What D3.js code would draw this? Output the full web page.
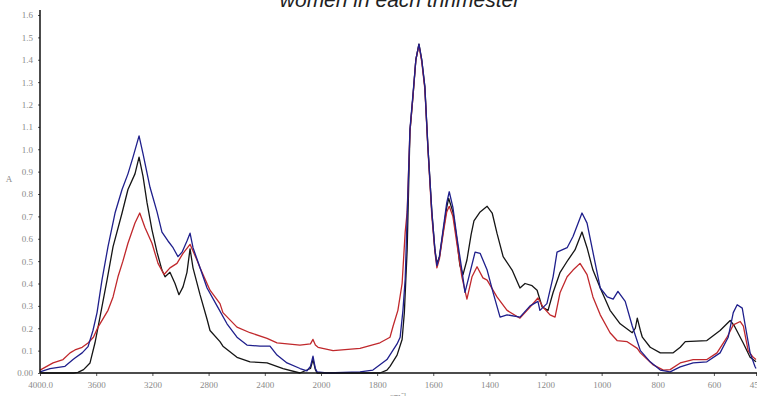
<!DOCTYPE html>
<html>
<head>
<meta charset="utf-8">
<script src="https://cdn.jsdelivr.net/npm/d3@7"></script>
<style>
  body { margin: 0; background: #fff; }
  svg { display: block; }
</style>
</head>
<body>
<div id="chart"></div>
<script>
// spectra: [wavenumber cm-1, absorbance]
const trimester1 = [ // blue
  [4000,0.005],[3929,0.02],[3822,0.03],[3765,0.06],[3751,0.067],[3700,0.09],[3658,0.118],[3623,0.19],
  [3594,0.27],[3559,0.415],[3516,0.565],[3466,0.715],[3416,0.82],[3374,0.89],[3338,0.965],[3295,1.06],
  [3267,0.98],[3217,0.83],
  [3167,0.72],[3132,0.63],[3089,0.59],[3053,0.56],[3018,0.52],[2989,0.54],[2954,0.59],[2932,0.625],
  [2911,0.56],[2861,0.47],[2811,0.38],[2740,0.30],[2669,0.22],[2598,0.16],[2527,0.125],[2434,0.12],
  [2363,0.12],[2313,0.08],[2242,0.045],[2149,0.02],[2100,0.01],[2075,0.03],[2057,0.075],[2040,0.02],
  [2028,0.005],[1979,0.0],[1861,0.005],[1815,0.013],[1765,0.06],[1729,0.13],[1718,0.16],[1708,0.28],
  [1700,0.42],[1693,0.70],[1683,1.09],[1672,1.25],[1662,1.40],[1651,1.47],[1641,1.40],[1630,1.28],
  [1619,1.01],[1605,0.72],[1594,0.55],[1587,0.48],[1578,0.52],[1565,0.64],[1552,0.76],[1543,0.81],
  [1530,0.74],[1516,0.61],[1498,0.46],[1487,0.36],[1469,0.45],[1451,0.54],[1433,0.535],[1408,0.46],
  [1387,0.36],[1362,0.25],[1337,0.26],[1291,0.25],[1255,0.30],[1227,0.32],[1220,0.28],[1195,0.31],
  [1173,0.43],[1159,0.54],[1123,0.56],[1102,0.61],[1070,0.715],[1052,0.67],[1031,0.54],[1005,0.38],
  [980,0.34],[959,0.33],[942,0.365],[916,0.32],[891,0.21],[862,0.10],[827,0.05],[791,0.013],
  [756,0.005],[720,0.027],[674,0.045],[625,0.05],[578,0.09],[549,0.16],[531,0.27],[517,0.305],
  [499,0.29],[488,0.21],[471,0.09],[454,0.03],[450,0.02]
]

const trimester2 = [ // black
  [4000,0.0],[3760,0.0],[3730,0.003],[3690,0.015],[3644,0.045],[3609,0.134],[3573,0.25],[3523,0.415],
  [3480,0.565],[3416,0.715],[3374,0.82],[3324,0.89],[3295,0.965],[3267,0.88],[3238,0.76],
  [3203,0.64],[3167,0.54],[3132,0.46],[3110,0.43],[3075,0.45],[3039,0.40],[3011,0.35],[2982,0.385],
  [2954,0.45],[2932,0.555],[2911,0.47],[2861,0.35],[2811,0.24],[2790,0.19],[2719,0.14],[2698,0.12],
  [2598,0.07],[2505,0.05],[2384,0.045],[2270,0.02],[2150,0.0],[2075,0.02],[2057,0.06],[2040,0.015],
  [2028,0.0],[1861,0.0],[1790,0.0],[1765,0.013],[1754,0.03],[1729,0.08],[1711,0.15],[1703,0.27],
  [1693,0.55],[1683,1.08],[1672,1.24],[1662,1.40],[1651,1.47],[1641,1.40],[1630,1.28],[1619,1.01],
  [1605,0.72],[1594,0.55],[1587,0.49],[1578,0.52],[1565,0.63],[1552,0.74],[1545,0.78],[1530,0.72],
  [1516,0.60],[1505,0.48],[1494,0.44],[1480,0.505],[1465,0.62],[1455,0.68],[1433,0.72],[1408,0.745],
  [1390,0.715],[1373,0.625],[1351,0.52],[1319,0.46],[1291,0.38],[1273,0.40],[1248,0.39],[1230,0.37],
  [1212,0.295],[1191,0.28],[1173,0.36],[1148,0.45],[1120,0.505],[1095,0.55],[1070,0.63],[1052,0.56],
  [1031,0.46],[1005,0.38],[970,0.28],[934,0.22],[891,0.18],[880,0.20],[873,0.245],[862,0.19],
  [855,0.16],[827,0.115],[791,0.09],[745,0.09],[720,0.115],[702,0.14],[625,0.145],[578,0.19],
  [542,0.235],[527,0.21],[496,0.135],[471,0.07],[450,0.05]
]

const trimester3 = [ // red
  [4000,0.013],[3907,0.045],[3836,0.06],[3786,0.09],[3751,0.103],[3700,0.115],[3658,0.134],[3620,0.16],
  [3587,0.205],[3516,0.28],[3480,0.34],[3445,0.43],[3410,0.50],[3374,0.58],[3324,0.67],[3290,0.715],
  [3253,0.65],
  [3203,0.58],[3160,0.49],[3117,0.44],[3075,0.47],[3025,0.49],[2982,0.535],[2932,0.575],[2883,0.505],
  [2861,0.47],[2790,0.37],[2719,0.31],[2698,0.27],[2598,0.205],[2505,0.18],[2384,0.155],[2313,0.135],
  [2150,0.125],[2075,0.13],[2057,0.15],[2040,0.125],[2021,0.115],[1957,0.10],[1861,0.11],[1790,0.135],
  [1754,0.16],[1743,0.21],[1726,0.28],[1711,0.40],[1700,0.63],[1693,0.72],[1683,1.08],[1672,1.24],
  [1662,1.40],[1651,1.465],[1641,1.39],[1630,1.27],[1619,1.0],[1605,0.70],[1594,0.54],[1587,0.47],
  [1578,0.51],[1565,0.62],[1552,0.72],[1543,0.745],[1530,0.70],[1516,0.58],[1498,0.43],[1480,0.33],
  [1462,0.43],[1444,0.475],[1423,0.425],[1408,0.415],[1373,0.34],[1337,0.28],[1291,0.245],[1255,0.295],
  [1227,0.335],[1209,0.295],[1184,0.26],[1166,0.25],[1148,0.36],[1123,0.43],[1102,0.46],[1077,0.49],
  [1052,0.44],[1031,0.34],[1005,0.26],[970,0.18],[945,0.145],[909,0.14],[873,0.11],[862,0.09],
  [816,0.036],[780,0.013],[756,0.015],[720,0.045],[674,0.06],[625,0.06],[589,0.09],[553,0.16],
  [531,0.215],[506,0.23],[495,0.21],[478,0.10],[460,0.07],[450,0.06]
]

const seriesColors = ["#1f1f8c", "#151515", "#c0282c"]
const xTicks = [4000,3600,3200,2800,2400,2000,1800,1600,1400,1200,1000,800,600,450]
const yTicks = [0,0.1,0.2,0.3,0.4,0.5,0.6,0.7,0.8,0.9,1.0,1.1,1.2,1.3,1.4,1.5,1.6]

const width = 757, height = 396

const svg = d3.select("#chart")
  .append("svg")
    .attr("width", width)
    .attr("height", height)

// the spectrometer plot doubles the scale below 2000 cm-1
const x = d3.scaleLinear()
  .domain([4000, 2000, 450])
  .range([40, 321, 756])

const y = d3.scaleLinear()
  .domain([0, 1.6])
  .range([373, 15])

// title, cut off by the top edge like the source
svg.append("text")
  .attr("x", 400)
  .attr("y", 7)
  .attr("text-anchor", "middle")
  .style("font-family", "Liberation Sans, Arial, sans-serif")
  .style("font-style", "italic")
  .style("font-size", "21px")
  .style("fill", "#222")
  .text("women in each thrimester")

// curves: black under, then red, blue on top
const line = d3.line()
  .x(d => x(d[0]))
  .y(d => y(d[1]))

const drawOrder = [[trimester2, seriesColors[1]], [trimester3, seriesColors[2]], [trimester1, seriesColors[0]]]

svg.selectAll("path.spectrum")
  .data(drawOrder)
  .join("path")
    .attr("class", "spectrum")
    .attr("d", d => line(d[0]))
    .attr("fill", "none")
    .attr("stroke", d => d[1])
    .attr("stroke-width", 1.3)
    .attr("stroke-linejoin", "round")

// axes
const xAxis = d3.axisBottom(x)
  .tickValues(xTicks)
  .tickSize(3)
  .tickSizeOuter(0)
  .tickPadding(6)
  .tickFormat(d => d === 4000 ? "4000.0" : d)

const yAxis = d3.axisLeft(y)
  .tickValues(yTicks)
  .tickSize(2)
  .tickSizeOuter(0)
  .tickPadding(5)
  .tickFormat(d => d === 0 ? "0.00" : d3.format(".1f")(d))

const gx = svg.append("g")
  .attr("transform", `translate(0,${y(0)})`)
  .call(xAxis)

const gy = svg.append("g")
  .attr("transform", `translate(${x(4000)},0)`)
  .call(yAxis)

gx.select(".domain").remove()
gy.select(".domain").remove()

svg.append("line")
  .attr("x1", x(4000)).attr("x2", width)
  .attr("y1", y(0)).attr("y2", y(0))
  .attr("stroke", "#111").attr("stroke-width", 1.5)

svg.append("line")
  .attr("x1", x(4000)).attr("x2", x(4000))
  .attr("y1", 10).attr("y2", y(0))
  .attr("stroke", "#111").attr("stroke-width", 1.5)

svg.selectAll(".tick text")
  .style("font-family", "Liberation Serif, Times New Roman, serif")
  .style("font-size", "9px")
  .style("fill", "#8a8a8a")

svg.selectAll(".tick line")
  .attr("stroke", "#555")

// axis names
svg.append("text")
  .attr("x", 9)
  .attr("y", 182)
  .attr("text-anchor", "middle")
  .style("font-family", "Liberation Serif, serif")
  .style("font-size", "9px")
  .style("fill", "#8a8a8a")
  .text("A")

svg.append("text")
  .attr("x", 398)
  .attr("y", 399)
  .attr("text-anchor", "middle")
  .style("font-family", "Liberation Serif, serif")
  .style("font-size", "9px")
  .style("fill", "#8a8a8a")
  .text("cm⁻¹")
</script>
</body>
</html>
